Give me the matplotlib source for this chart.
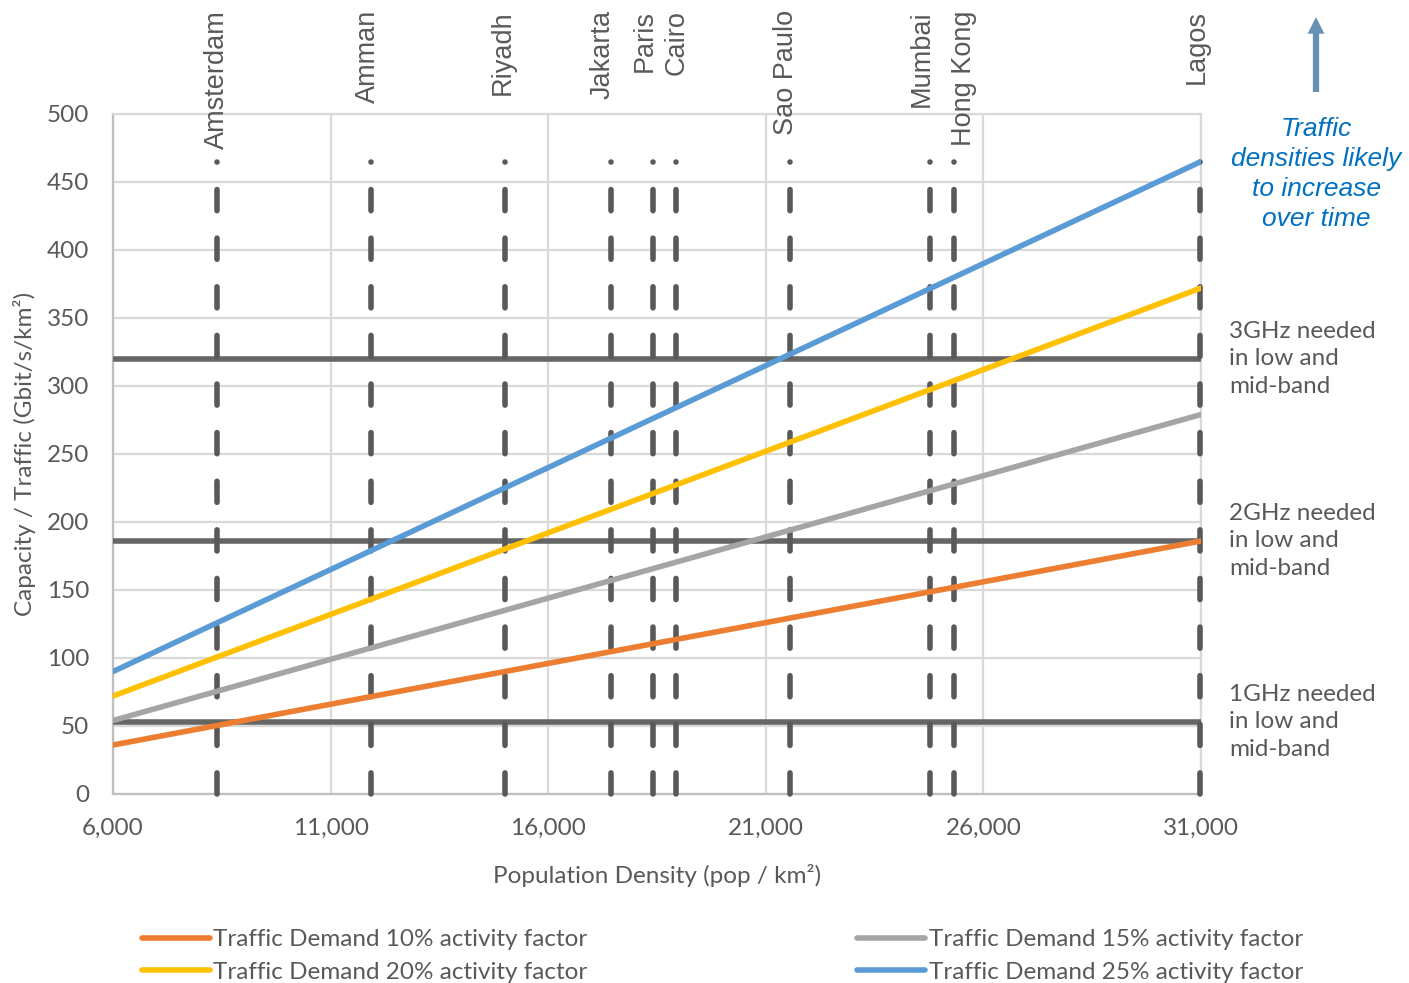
import numpy as np
import matplotlib
matplotlib.use("Agg")
import matplotlib.pyplot as plt
from matplotlib.transforms import blended_transform_factory
from matplotlib.ticker import FuncFormatter

# data
pop_density = [6000, 31000]
demand_10 = [36, 186]
demand_15 = [54, 279]
demand_20 = [72, 372]
demand_25 = [90, 465]

band_levels = [53, 186, 320]
band_labels = ["1GHz needed\nin low and\nmid-band",
               "2GHz needed\nin low and\nmid-band",
               "3GHz needed\nin low and\nmid-band"]

cities = ["Amsterdam", "Amman", "Riyadh", "Jakarta", "Paris", "Cairo",
          "Sao Paulo", "Mumbai", "Hong Kong", "Lagos"]
city_density = [8390, 11930, 15010, 17440, 18410, 18940, 21560, 24770, 25320, 30980]
city_label_shift = [0, -3, -2, -8, -8, 0, -4, -8, 10, -3]  # px, to keep labels apart
city_line_top = 465

series = [
    ("Traffic Demand 10% activity factor", demand_10, "#ED7D31"),
    ("Traffic Demand 15% activity factor", demand_15, "#A5A5A5"),
    ("Traffic Demand 20% activity factor", demand_20, "#FFC000"),
    ("Traffic Demand 25% activity factor", demand_25, "#5B9BD5"),
]

txt = "#595959"
body_font = ["Lato", "DejaVu Sans"]
label_font = ["Liberation Sans", "DejaVu Sans"]
fs = 17.5

fig = plt.figure(figsize=(14.09, 9.83), dpi=100)
ax = fig.add_axes([0.0802, 0.1923, 0.7722, 0.6918])

ax.set_xlim(6000, 31000)
ax.set_ylim(0, 500)
ax.set_xticks(np.arange(6000, 31001, 5000))
ax.set_yticks(np.arange(0, 501, 50))
ax.xaxis.set_major_formatter(FuncFormatter(lambda v, p: f"{int(v):,}"))
ax.grid(True, color="#D9D9D9", lw=1.6)
ax.set_axisbelow(True)
for s in ax.spines.values():
    s.set_color("#D9D9D9")
    s.set_linewidth(1.6)
ax.spines["left"].set_color("#BFBFBF")
ax.spines["bottom"].set_color("#BFBFBF")
ax.tick_params(length=0, pad=17, labelsize=fs, labelcolor=txt)
for lab in ax.get_xticklabels() + ax.get_yticklabels():
    lab.set_family(body_font)

# city markers
for x in city_density:
    ax.plot([x, x], [0, city_line_top], color="#595959", lw=4,
            dashes=(3.8, 4.95), dash_capstyle="round", zorder=4, clip_on=False)

# band thresholds
for y in band_levels:
    ax.plot(pop_density, [y, y], color="#666666", lw=4, zorder=3,
            solid_capstyle="butt")

# demand lines
handles = []
for name, vals, col in series:
    h, = ax.plot(pop_density, vals, color=col, lw=4, label=name, zorder=5,
                 solid_capstyle="round")
    handles.append(h)

# city labels above the chart
trans = blended_transform_factory(ax.transData, fig.transFigure)
for name, x, dx in zip(cities, city_density, city_label_shift):
    ax.annotate(name, xy=(x, 1 - 10 / 983), xycoords=trans,
                xytext=(dx, 0), textcoords="offset pixels",
                rotation=90, ha="center", va="top", fontsize=19.5,
                color=txt, family=label_font, annotation_clip=False)

# band notes on the right
for y, lab in zip(band_levels, band_labels):
    ax.text(31650, y, lab, ha="left", va="center", fontsize=fs,
            color=txt, family=body_font, linespacing=1.38, clip_on=False)

# trend note
fig.text(1316 / 1409, 1 - 174 / 983,
         "Traffic\ndensities likely\nto increase\nover time",
         ha="center", va="center", fontsize=19, style="italic",
         color="#0070C0", family=label_font, linespacing=1.32)
ax.annotate("", xy=(1316 / 1409, 1 - 17 / 983), xycoords="figure fraction",
            xytext=(1316 / 1409, 1 - 92 / 983), textcoords="figure fraction",
            arrowprops=dict(arrowstyle="simple,head_length=1.2,head_width=1.2,tail_width=0.45",
                            color="#6690B4", lw=0, shrinkA=0, shrinkB=0))

ax.set_xlabel("Population Density (pop / km²)", fontsize=fs, color=txt,
              family=body_font, labelpad=18)
ax.set_ylabel("Capacity / Traffic (Gbit/s/km²)", fontsize=fs, color=txt,
              family=body_font, labelpad=8)

order = [handles[0], handles[2], handles[1], handles[3]]
fig.legend(order, [h.get_label() for h in order], loc="lower center",
           bbox_to_anchor=(0.5128, -0.022), ncol=2, frameon=False,
           prop={"family": body_font, "size": fs}, labelcolor=txt,
           handlelength=2.8, handletextpad=0.15, columnspacing=11.1,
           labelspacing=0.48)

fig.savefig("out.png", dpi=100)
